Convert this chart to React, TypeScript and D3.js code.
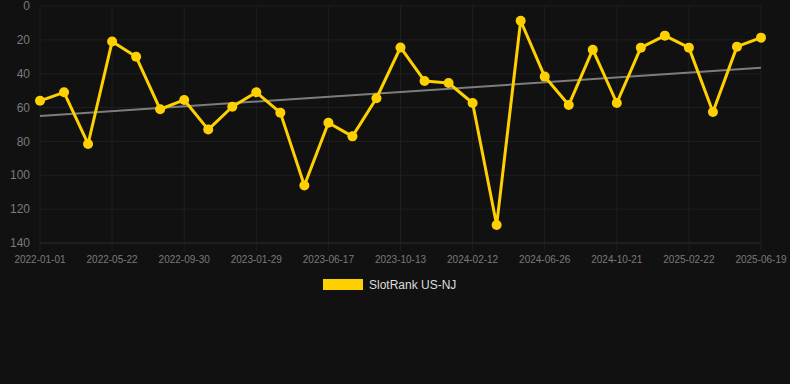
import React, { useEffect, useRef } from 'react'
import * as d3 from 'd3'

const dates = [
  '2022-01-01', '2022-02-17', '2022-04-05', '2022-05-22', '2022-07-04', '2022-08-17',
  '2022-09-30', '2022-11-09', '2022-12-20', '2023-01-29', '2023-03-17', '2023-05-02',
  '2023-06-17', '2023-07-27', '2023-09-04', '2023-10-13', '2023-11-22', '2024-01-02',
  '2024-02-12', '2024-03-28', '2024-05-12', '2024-06-26', '2024-08-03', '2024-09-12',
  '2024-10-21', '2024-12-01', '2025-01-11', '2025-02-22', '2025-04-01', '2025-05-11',
  '2025-06-19',
]

const ranks = [
  56, 51, 81.5, 21, 30, 61, 55.5, 73, 59.5, 51, 63, 106, 69, 77, 54.5, 24.5,
  44.3, 45.5, 57.3, 129.4, 8.7, 41.7, 58.5, 25.8, 57.3, 24.6, 17.5, 24.6, 62.6, 24, 18.7,
]

const yTicks = [0, 20, 40, 60, 80, 100, 120, 140]
const seriesName = 'SlotRank US-NJ'

const W = 790
const H = 384
const margin = { top: 6, right: 29, bottom: 141, left: 40 }

const App: React.FC = () => {
  const svgRef = useRef<SVGSVGElement>(null)

  useEffect(() => {
    const svg = d3.select(svgRef.current)
    svg.selectAll('*').remove()

    const width = W - margin.left - margin.right
    const height = H - margin.top - margin.bottom

    const x = d3.scalePoint<string>().domain(dates).range([0, width])
    const y = d3.scaleLinear().domain([0, 140]).range([0, height])

    svg.append('rect').attr('width', W).attr('height', H).attr('fill', '#111111')

    const g = svg.append('g').attr('transform', `translate(${margin.left},${margin.top})`)

    // grid
    g.append('g')
      .selectAll('line')
      .data(yTicks)
      .enter().append('line')
      .attr('x1', 0).attr('x2', width)
      .attr('y1', d => y(d)).attr('y2', d => y(d))
      .attr('stroke', d => (d === 140 ? '#2e2e2e' : '#1f1f1f'))
      .attr('stroke-width', 1)

    const tickDates = dates.filter((_, i) => i % 3 === 0)
    g.append('g')
      .selectAll('line')
      .data(tickDates)
      .enter().append('line')
      .attr('x1', d => x(d)!).attr('x2', d => x(d)!)
      .attr('y1', 0).attr('y2', height + 8)
      .attr('stroke', '#1f1f1f')
      .attr('stroke-width', 1)

    // y labels
    g.append('g')
      .selectAll('text')
      .data(yTicks)
      .enter().append('text')
      .attr('x', -10)
      .attr('y', d => y(d))
      .attr('dy', '0.35em')
      .attr('text-anchor', 'end')
      .attr('fill', '#7a7a7a')
      .attr('font-family', 'Liberation Sans, Arial, sans-serif')
      .attr('font-size', 12)
      .text(d => d)

    // x labels
    g.append('g')
      .selectAll('text')
      .data(tickDates)
      .enter().append('text')
      .attr('x', d => x(d)!)
      .attr('y', height + 16)
      .attr('dy', '0.35em')
      .attr('text-anchor', 'middle')
      .attr('fill', '#7a7a7a')
      .attr('font-family', 'Liberation Sans, Arial, sans-serif')
      .attr('font-size', 10)
      .text(d => d)

    // trend line (least squares)
    const n = ranks.length
    const mx = (n - 1) / 2
    const my = d3.mean(ranks)!
    let sxy = 0
    let sxx = 0
    ranks.forEach((v, i) => {
      sxy += (i - mx) * (v - my)
      sxx += (i - mx) * (i - mx)
    })
    const slope = sxy / sxx
    const trend = [0, n - 1].map(i => ({ d: dates[i], v: my + slope * (i - mx) }))
    g.append('path')
      .datum(trend)
      .attr('fill', 'none')
      .attr('stroke', '#7d7d7d')
      .attr('stroke-width', 2)
      .attr('d', d3.line<{ d: string; v: number }>().x(p => x(p.d)!).y(p => y(p.v)))

    const pts = dates.map((d, i) => ({ d, v: ranks[i] }))
    g.append('path')
      .datum(pts)
      .attr('fill', 'none')
      .attr('stroke', '#ffd000')
      .attr('stroke-width', 3)
      .attr('stroke-linejoin', 'round')
      .attr('d', d3.line<{ d: string; v: number }>().x(p => x(p.d)!).y(p => y(p.v)))

    g.selectAll('.dot')
      .data(pts)
      .enter().append('circle')
      .attr('class', 'dot')
      .attr('cx', p => x(p.d)!)
      .attr('cy', p => y(p.v))
      .attr('r', 5)
      .attr('fill', '#ffd000')

    // legend
    const lg = svg.append('g').attr('transform', 'translate(323,279)')
    lg.append('rect').attr('width', 40).attr('height', 11).attr('fill', '#ffd000')
    lg.append('text')
      .attr('x', 46)
      .attr('y', 5.5)
      .attr('dy', '0.35em')
      .attr('fill', '#dddddd')
      .attr('font-family', 'Liberation Sans, Arial, sans-serif')
      .attr('font-size', 12)
      .text(seriesName)
  }, [])

  return (
    <div style={{ position: 'fixed', left: 0, top: 0, width: W, height: H, background: '#111111' }}>
      <svg ref={svgRef} width={W} height={H} style={{ display: 'block' }} />
    </div>
  )
}

export default App
